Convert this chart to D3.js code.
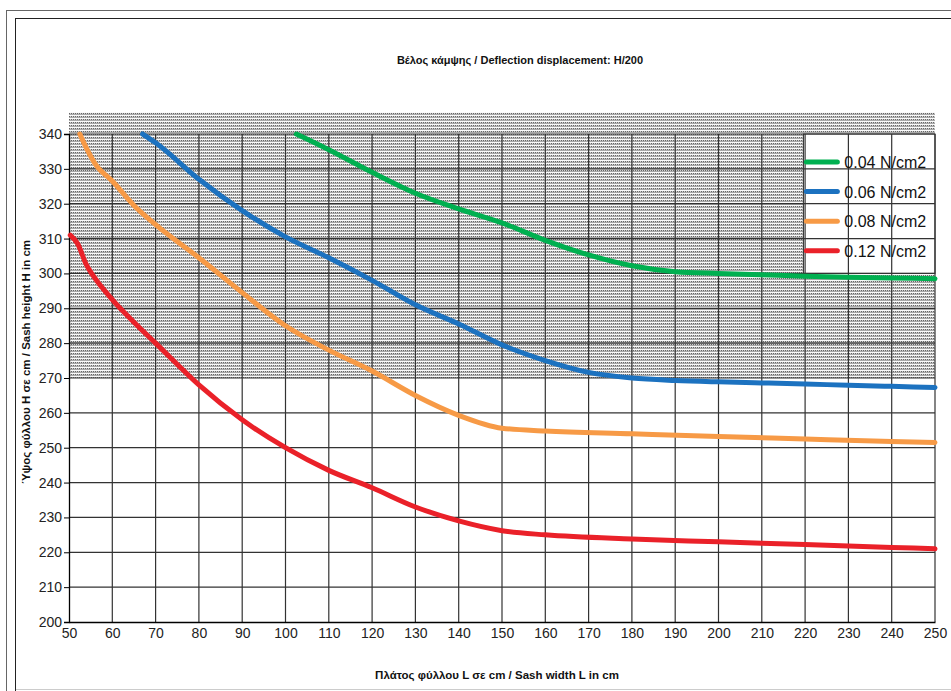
<!DOCTYPE html>
<html>
<head>
<meta charset="utf-8">
<script src="https://cdn.jsdelivr.net/npm/d3@7"></script>
<style>
  body { margin: 0; background: #fff; }
  svg { display: block; font-family: "Liberation Sans", Arial, sans-serif; }
</style>
</head>
<body>
<div id="chart"></div>
<script>
// values
const x_ticks = [50, 60, 70, 80, 90, 100, 110, 120, 130, 140, 150, 160, 170, 180, 190, 200, 210, 220, 230, 240, 250];
const y_ticks = [200, 210, 220, 230, 240, 250, 260, 270, 280, 290, 300, 310, 320, 330, 340];

const series_names = ["0.04 N/cm2", "0.06 N/cm2", "0.08 N/cm2", "0.12 N/cm2"];
const series_colors = ["#00b050", "#1c72c0", "#f79a46", "#ea2129"];

const green_04 = [[102.5, 340], [110, 335.5], [120, 329], [130, 323], [140, 318.5], [150, 314.5], [160, 309.5], [170, 305.3], [180, 302.2], [190, 300.5], [200, 300], [210, 299.6], [220, 299.2], [230, 298.9], [240, 298.7], [250, 298.5]];
const blue_06 = [[67, 340], [70, 337.5], [80, 327], [90, 318], [100, 310.5], [110, 304.5], [120, 298], [130, 291], [140, 285.5], [150, 279.5], [160, 275], [170, 271.6], [180, 270], [190, 269.3], [200, 268.9], [210, 268.6], [220, 268.3], [230, 267.9], [240, 267.6], [250, 267.3]];
const orange_08 = [[52.5, 340], [54, 336], [56, 331.5], [60, 326.5], [65, 319.5], [70, 314], [80, 304.5], [90, 294.5], [100, 285], [110, 278], [120, 272], [130, 265], [140, 259.3], [150, 255.6], [160, 254.8], [180, 254], [200, 253.2], [220, 252.5], [240, 251.8], [250, 251.5]];
const red_12 = [[50.3, 311], [52, 308.5], [54, 302.5], [55.5, 299.5], [60, 292.5], [65, 286], [70, 280], [80, 268], [90, 258], [100, 250], [110, 243.5], [120, 238.5], [130, 233], [140, 229], [150, 226.2], [160, 225], [180, 223.8], [200, 223], [220, 222.2], [240, 221.4], [250, 221]];

// shaded band (H range) and legend box, in data units
const band_x = [50, 250];
const band_y = [270, 346.3];
const legend_x = [219.6, 250];
const legend_y = [300, 340];

const all_series = [green_04, blue_06, orange_08, red_12];

const W = 951, H = 691;
const margins = { top: 134, right: 16, bottom: 69, left: 69 };
const width = 935 - margins.left;
const height = 622 - margins.top;

const x_scale = d3.scaleLinear().domain([50, 250]).range([0, width]);
const y_scale = d3.scaleLinear().domain([200, 340]).range([height, 0]);

const svg = d3.select("#chart").append("svg")
  .attr("width", W)
  .attr("height", H);

// hatch pattern
const defs = svg.append("defs");
const pat = defs.append("pattern")
  .attr("id", "hatch")
  .attr("patternUnits", "userSpaceOnUse")
  .attr("width", 2).attr("height", 3);
pat.append("rect").attr("width", 2).attr("height", 3).attr("fill", "#fafafa");
pat.append("rect").attr("x", 0).attr("y", 0).attr("width", 1).attr("height", 1).attr("fill", "#666");
pat.append("rect").attr("x", 1).attr("y", 0).attr("width", 1).attr("height", 1).attr("fill", "#d0d0d0");
pat.append("rect").attr("x", 0).attr("y", 1).attr("width", 2).attr("height", 1).attr("fill", "#a8a8a8");

// frame
svg.append("rect").attr("x", 6.5).attr("y", 10.5).attr("width", 1000).attr("height", 1000)
  .attr("fill", "none").attr("stroke", "#666");
svg.append("rect").attr("x", 15.5).attr("y", 18.5).attr("width", 1000).attr("height", 1000)
  .attr("fill", "none").attr("stroke", "#222");
svg.append("line").attr("x1", 16).attr("x2", W).attr("y1", 689.5).attr("y2", 689.5)
  .attr("stroke", "#ccc");

const g = svg.append("g").attr("transform", "translate(" + margins.left + "," + margins.top + ")");

// shaded band
g.append("rect")
  .attr("x", x_scale(band_x[0]))
  .attr("y", y_scale(band_y[1]))
  .attr("width", x_scale(band_x[1]) - x_scale(band_x[0]))
  .attr("height", y_scale(band_y[0]) - y_scale(band_y[1]))
  .attr("fill", "url(#hatch)");

// legend background
g.append("rect")
  .attr("x", x_scale(legend_x[0]))
  .attr("y", y_scale(legend_y[1]))
  .attr("width", x_scale(legend_x[1]) - x_scale(legend_x[0]))
  .attr("height", y_scale(legend_y[0]) - y_scale(legend_y[1]))
  .attr("fill", "#fff")
  .attr("stroke", "#222");

// grid
g.append("g").selectAll("line").data(x_ticks.slice(1)).join("line")
  .attr("x1", d => x_scale(d)).attr("x2", d => x_scale(d))
  .attr("y1", 0).attr("y2", height)
  .attr("stroke", "#333").attr("stroke-width", 1.2);
g.append("g").selectAll("line").data(y_ticks.slice(1)).join("line")
  .attr("x1", 0).attr("x2", width)
  .attr("y1", d => y_scale(d)).attr("y2", d => y_scale(d))
  .attr("stroke", "#333").attr("stroke-width", 1.2);

// axes
const x_axis = d3.axisBottom(x_scale).tickValues(x_ticks).tickSize(0).tickPadding(6);
const y_axis = d3.axisLeft(y_scale).tickValues(y_ticks).tickSize(5).tickPadding(2);

const gx = g.append("g").attr("transform", "translate(0," + height + ")").call(x_axis);
const gy = g.append("g").call(y_axis);
[gx, gy].forEach(a => {
  a.select(".domain").attr("stroke", "#000").attr("stroke-width", 1.3);
  a.selectAll(".tick line").attr("stroke", "#000");
  a.selectAll("text").attr("font-family", "Liberation Sans, Arial, sans-serif")
    .attr("font-size", 14).attr("fill", "#222");
});
gx.selectAll(".tick line").remove();

// curves
const line = d3.line()
  .x(d => x_scale(d[0]))
  .y(d => y_scale(d[1]))
  .curve(d3.curveMonotoneX);

g.append("g").selectAll("path").data(all_series).join("path")
  .attr("d", d => line(d))
  .attr("fill", "none")
  .attr("stroke", (d, i) => series_colors[i])
  .attr("stroke-width", 5)
  .attr("stroke-linecap", "round")
  .attr("stroke-linejoin", "round");

// legend entries
const lx = x_scale(legend_x[0]);
const leg = g.append("g").selectAll("g").data(series_names).join("g")
  .attr("transform", (d, i) => "translate(" + lx + "," + (28 + i * 29.6) + ")");
leg.append("line")
  .attr("x1", 3).attr("x2", 34).attr("y1", 0).attr("y2", 0)
  .attr("stroke", (d, i) => series_colors[i])
  .attr("stroke-width", 5).attr("stroke-linecap", "round");
leg.append("text")
  .attr("x", 41).attr("y", 6)
  .attr("font-size", 16).attr("fill", "#111")
  .text(d => d);

// titles
svg.append("text")
  .attr("x", 520).attr("y", 64)
  .attr("text-anchor", "middle")
  .attr("font-size", 11).attr("font-weight", "bold").attr("fill", "#111")
  .text("Βέλος κάμψης  / Deflection displacement: H/200");

svg.append("text")
  .attr("x", 497).attr("y", 679)
  .attr("text-anchor", "middle")
  .attr("font-size", 11.5).attr("font-weight", "bold").attr("fill", "#111")
  .text("Πλάτος φύλλου L σε cm / Sash width L in cm");

svg.append("text")
  .attr("transform", "translate(30,362) rotate(-90)")
  .attr("text-anchor", "middle")
  .attr("font-size", 11.5).attr("font-weight", "bold").attr("fill", "#111")
  .text("Ύψος φύλλου H σε cm / Sash height H in cm");
</script>
</body>
</html>
